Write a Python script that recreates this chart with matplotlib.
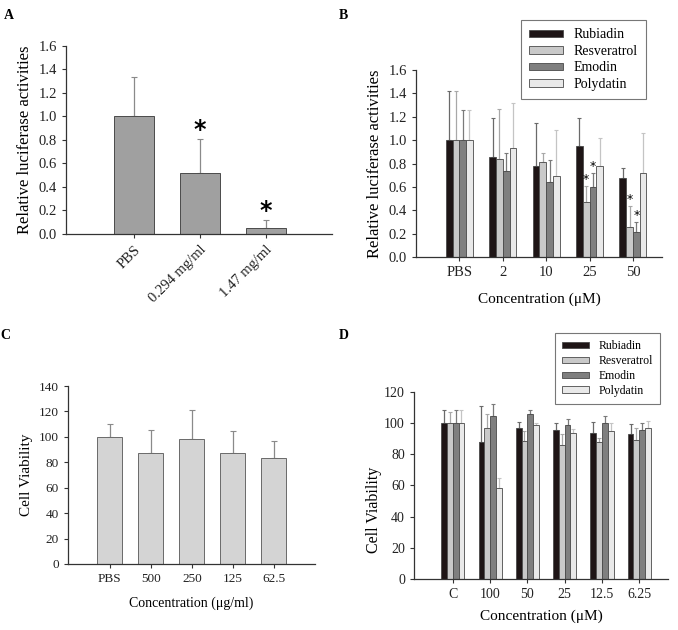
import numpy as np
import matplotlib
matplotlib.use('Agg')
import matplotlib.pyplot as plt

plt.rcParams['font.family'] = ['Liberation Serif', 'DejaVu Serif']

# Panel A
a_labels = ['PBS', '0.294 mg/ml', '1.47 mg/ml']
a_mean = [1.0, 0.52, 0.05]
a_err = [0.34, 0.29, 0.07]
a_star = [False, True, True]

# Panel B
b_labels = ['PBS', '2', '10', '25', '50']
compounds = ['Rubiadin', 'Resveratrol', 'Emodin', 'Polydatin']
b_mean = {
    'Rubiadin':    [1.0, 0.86, 0.78, 0.95, 0.68],
    'Resveratrol': [1.0, 0.84, 0.81, 0.47, 0.26],
    'Emodin':      [1.0, 0.74, 0.64, 0.60, 0.21],
    'Polydatin':   [1.0, 0.93, 0.69, 0.78, 0.72],
}
b_err = {
    'Rubiadin':    [0.42, 0.33, 0.37, 0.24, 0.08],
    'Resveratrol': [0.42, 0.43, 0.08, 0.14, 0.18],
    'Emodin':      [0.26, 0.15, 0.19, 0.12, 0.09],
    'Polydatin':   [0.26, 0.39, 0.40, 0.24, 0.34],
}
# (compound, group index) pairs marked with *
b_stars = [('Resveratrol', 3), ('Emodin', 3), ('Resveratrol', 4), ('Emodin', 4)]

# Panel C
c_labels = ['PBS', '500', '250', '125', '62.5']
c_mean = [100, 87.5, 98, 87.5, 83.5]
c_err = [10, 17.5, 23, 17, 13]

# Panel D
d_labels = ['C', '100', '50', '25', '12.5', '6.25']
d_mean = {
    'Rubiadin':    [100, 88, 97, 95.7, 93.4, 93.2],
    'Resveratrol': [100, 97, 88.7, 85.7, 87.9, 89.4],
    'Emodin':      [100, 104.3, 105.7, 98.9, 99.8, 95.7],
    'Polydatin':   [100, 58.5, 98.9, 93.8, 94.7, 96.8],
}
d_err = {
    'Rubiadin':    [8.5, 23, 4, 4.5, 7.5, 6.4],
    'Resveratrol': [7, 8.7, 6, 7.1, 2.5, 7.4],
    'Emodin':      [8.5, 8, 2.6, 3.9, 5.1, 4.5],
    'Polydatin':   [8.5, 6.4, 1.3, 2.6, 5.3, 4.5],
}

fill = {'Rubiadin': '#1e1516', 'Resveratrol': '#c9c9c9',
        'Emodin': '#7f7f7f', 'Polydatin': '#e9e9e9'}
errc = {'Rubiadin': '#6a6a6a', 'Resveratrol': '#a8a8a8',
        'Emodin': '#7a7a7a', 'Polydatin': '#c4c4c4'}

fig = plt.figure(figsize=(6.78, 6.30), dpi=100)


def style(ax):
    for s in ['top', 'right']:
        ax.spines[s].set_visible(False)
    for s in ['left', 'bottom']:
        ax.spines[s].set_color('#333333')
        ax.spines[s].set_linewidth(0.9)
    ax.tick_params(axis='both', colors='#333333', labelcolor='#222222',
                   length=3, width=0.8)


def grouped(ax, labels, means, errs, fs_leg, leg_anchor, hl):
    x = np.arange(len(labels))
    w = 0.155
    for i, c in enumerate(compounds):
        xs = x + (i - 1.5) * w
        ax.bar(xs, means[c], w, color=fill[c], edgecolor='#4a4a4a',
               linewidth=0.6, label=c, zorder=2)
        ax.errorbar(xs, means[c], yerr=[np.zeros(len(labels)), errs[c]],
                    fmt='none', ecolor=errc[c], elinewidth=0.9,
                    capsize=1.5, capthick=0.8, zorder=1)
    ax.set_xticks(x)
    ax.set_xticklabels(labels)
    leg = ax.legend(loc='upper left', bbox_to_anchor=leg_anchor,
                    fontsize=fs_leg, frameon=True, fancybox=False,
                    edgecolor='#555555', handlelength=hl, handleheight=0.45,
                    labelspacing=0.25, borderpad=0.6, handletextpad=0.8,
                    borderaxespad=0)
    leg.get_frame().set_linewidth(0.8)
    return x, w


# ---- A ----
axA = fig.add_axes([0.0973, 0.6286, 0.392, 0.2984])
xa = np.arange(len(a_labels))
axA.bar(xa, a_mean, 0.6, color='#a0a0a0', edgecolor='#4a4a4a', linewidth=0.7, zorder=2)
axA.errorbar(xa, a_mean, yerr=[np.zeros(3), a_err], fmt='none', ecolor='#8a8a8a',
             elinewidth=0.9, capsize=2, capthick=0.8, zorder=1)
for xi, m, e, s in zip(xa, a_mean, a_err, a_star):
    if s:
        axA.text(xi, m + e - 0.03, '*', ha='center', va='bottom', fontsize=17,
                 fontweight='bold', family='DejaVu Sans')
axA.set_xlim(-1.03, 3.0)
axA.set_ylim(0, 1.6)
axA.set_yticks(np.arange(0, 1.61, 0.2))
axA.set_yticklabels([f'{v:.1f}' for v in np.arange(0, 1.61, 0.2)])
axA.set_xticks(xa)
axA.set_xticklabels(a_labels, rotation=45, ha='right', rotation_mode='anchor')
axA.set_ylabel('Relative luciferase activities', fontsize=12)
style(axA)
axA.tick_params(labelsize=10.5)

# ---- B ----
axB = fig.add_axes([0.6136, 0.592, 0.3628, 0.2968])
xb, wb = grouped(axB, b_labels, b_mean, b_err, 10, (0.427, 1.267), 2.4)
for c, g in b_stars:
    i = compounds.index(c)
    axB.text(g + (i - 1.5) * wb, b_mean[c][g] + b_err[c][g] + 0.0, '*',
             ha='center', va='bottom', fontsize=9, family='DejaVu Sans')
axB.set_xlim(-1.0, 4.67)
axB.set_ylim(0, 1.6)
axB.set_yticks(np.arange(0, 1.61, 0.2))
axB.set_yticklabels([f'{v:.1f}' for v in np.arange(0, 1.61, 0.2)])
axB.set_ylabel('Relative luciferase activities', fontsize=12)
axB.set_xlabel('Concentration (\u03bcM)', fontsize=11, labelpad=10)
style(axB)
axB.tick_params(labelsize=10.5)

# ---- C ----
axC = fig.add_axes([0.1003, 0.1048, 0.3643, 0.2825])
xc = np.arange(len(c_labels))
axC.bar(xc, c_mean, 0.61, color='#d4d4d4', edgecolor='#6a6a6a', linewidth=0.7, zorder=2)
axC.errorbar(xc, c_mean, yerr=[np.zeros(5), c_err], fmt='none', ecolor='#8a8a8a',
             elinewidth=0.9, capsize=2, capthick=0.8, zorder=1)
axC.set_xlim(-1.02, 5.0)
axC.set_ylim(0, 140)
axC.set_yticks(np.arange(0, 141, 20))
axC.set_xticks(xc)
axC.set_xticklabels(c_labels)
axC.set_ylabel('Cell Viability', fontsize=11)
axC.set_xlabel('Concentration (\u03bcg/ml)', fontsize=10, labelpad=8)
style(axC)
axC.tick_params(labelsize=9.5)

# ---- D ----
axD = fig.add_axes([0.6106, 0.081, 0.3746, 0.2968])
grouped(axD, d_labels, d_mean, d_err, 8.5, (0.555, 1.316), 2.3)
axD.set_xlim(-1.04, 5.77)
axD.set_ylim(0, 120)
axD.set_yticks(np.arange(0, 121, 20))
axD.set_ylabel('Cell Viability', fontsize=11.5)
axD.yaxis.set_label_coords(-0.125, 0.37)
axD.set_xlabel('Concentration (\u03bcM)', fontsize=11, labelpad=6)
style(axD)
axD.tick_params(labelsize=10)

# panel letters
for lx, ly, t in [(0.006, 0.985, 'A'), (0.5, 0.985, 'B'),
                  (0.0, 0.478, 'C'), (0.5, 0.478, 'D')]:
    fig.text(lx, ly, t, fontsize=10, fontweight='bold', va='top')

fig.savefig('out.png', dpi=100)
